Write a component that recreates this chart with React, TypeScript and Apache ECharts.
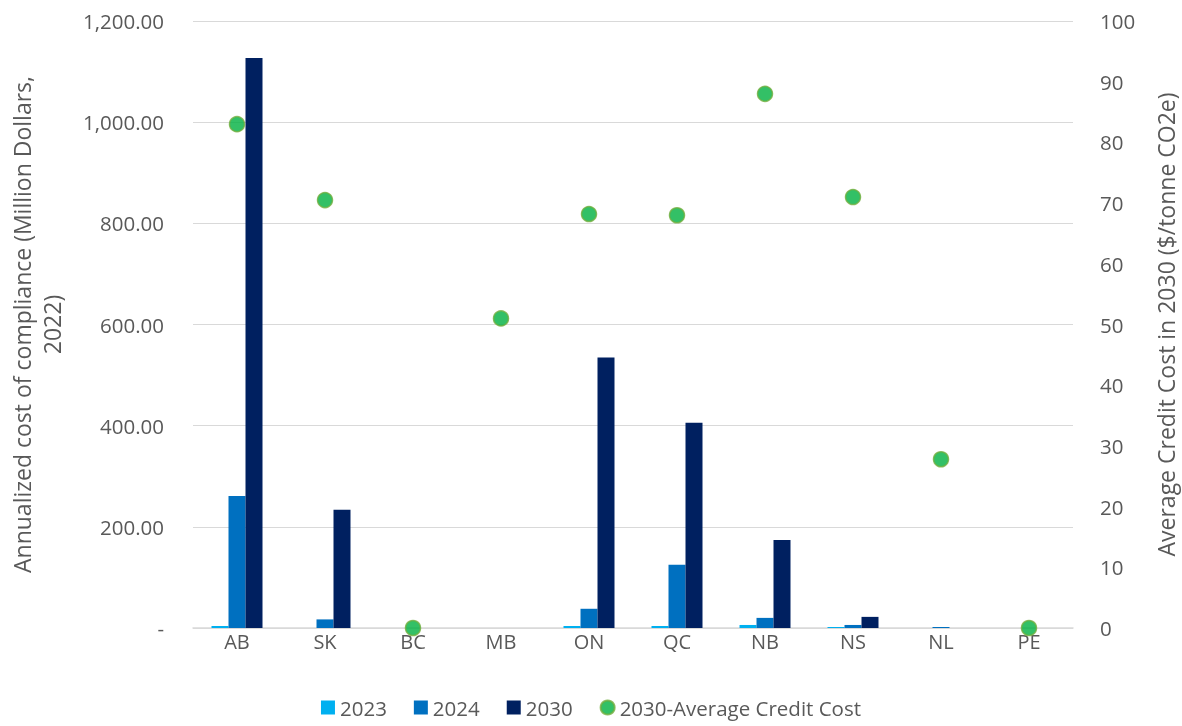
import React, { useEffect, useRef } from "react";
import * as echarts from "echarts";

const categories = ["AB", "SK", "BC", "MB", "ON", "QC", "NB", "NS", "NL", "PE"];
const values2023 = [4, 0, 0, 0, 4, 4, 6, 2, 0, 0];
const values2024 = [261, 17, 0, 0, 38, 125, 20, 6, 2, 0];
const values2030 = [1127, 234, 0, 0, 535, 406, 174, 22, 0, 0];
const avgCreditCost = [83, 70.5, 0, 51, 68.2, 68, 88, 71, 27.8, 0];

const FONT = "'Open Sans', sans-serif";
const TXT = "#595959";

export default function App() {
  const ref = useRef<HTMLDivElement>(null);
  useEffect(() => {
    const chart = echarts.init(ref.current!, null, { renderer: "svg" });
    chart.setOption({
      animation: false,
      textStyle: { fontFamily: FONT },
      grid: { left: 193, right: 109, top: 21, bottom: 98, outerBoundsMode: "none", containLabel: false },
      legend: {
        bottom: 3,
        left: "center",
        itemGap: 27,
        itemWidth: 14,
        itemHeight: 14,
        textStyle: { fontSize: 20.5, color: TXT, fontFamily: FONT },
        data: [
          { name: "2023", icon: "rect" },
          { name: "2024", icon: "rect" },
          { name: "2030", icon: "rect" },
          { name: "2030-Average Credit Cost", icon: "circle" },
        ],
      },
      xAxis: {
        type: "category",
        data: categories,
        axisTick: { show: false },
        axisLine: { lineStyle: { color: "#d9d9d9", width: 1.5 } },
        axisLabel: { color: TXT, fontSize: 20, margin: 3, fontFamily: FONT },
      },
      yAxis: [
        {
          type: "value",
          min: 0,
          max: 1200,
          interval: 200,
          name: "Annualized cost of compliance (Million Dollars,\n2022)",
          nameLocation: "middle",
          nameGap: 126,
          nameRotate: 90,
          nameTextStyle: { color: TXT, fontSize: 23, fontFamily: FONT, lineHeight: 30 },
          axisLine: { show: false },
          axisTick: { show: false },
          splitLine: { lineStyle: { color: "#d9d9d9", width: 1 } },
          axisLabel: {
            color: TXT,
            fontSize: 20.5,
            margin: 29,
            fontFamily: FONT,
            formatter: (v: number) =>
              v === 0
                ? "-"
                : v.toLocaleString("en-US", { minimumFractionDigits: 2, maximumFractionDigits: 2 }),
          },
        },
        {
          type: "value",
          min: 0,
          max: 100,
          interval: 10,
          position: "right",
          name: "Average Credit Cost in 2030 ($/tonne CO2e)",
          nameLocation: "middle",
          nameGap: 81,
          nameRotate: 90,
          nameTextStyle: { color: TXT, fontSize: 23, fontFamily: FONT },
          axisLine: { show: false },
          axisTick: { show: false },
          splitLine: { show: false },
          axisLabel: { color: TXT, fontSize: 20.5, margin: 27, fontFamily: FONT },
        },
      ],
      series: [
        {
          name: "2023",
          type: "bar",
          data: values2023,
          barWidth: 17,
          barGap: "0%",
          itemStyle: { color: "#00B0F0" },
        },
        {
          name: "2024",
          type: "bar",
          data: values2024,
          barWidth: 17,
          barGap: "0%",
          itemStyle: { color: "#0070C0" },
        },
        {
          name: "2030",
          type: "bar",
          data: values2030,
          barWidth: 17,
          barGap: "0%",
          itemStyle: { color: "#002060" },
        },
        {
          name: "2030-Average Credit Cost",
          type: "scatter",
          yAxisIndex: 1,
          data: avgCreditCost,
          symbol: "circle",
          symbolSize: 15,
          z: 5,
          itemStyle: { color: "#00B040", borderColor: "#6FAE3C", borderWidth: 1.5 },
        },
      ],
    });
    return () => chart.dispose();
  }, []);
  return (
    <div style={{ position: "fixed", left: 0, top: 0, width: 1182, height: 726, overflow: "hidden" }}>
      <div ref={ref} style={{ width: 1182, height: 726 }} />
    </div>
  );
}
